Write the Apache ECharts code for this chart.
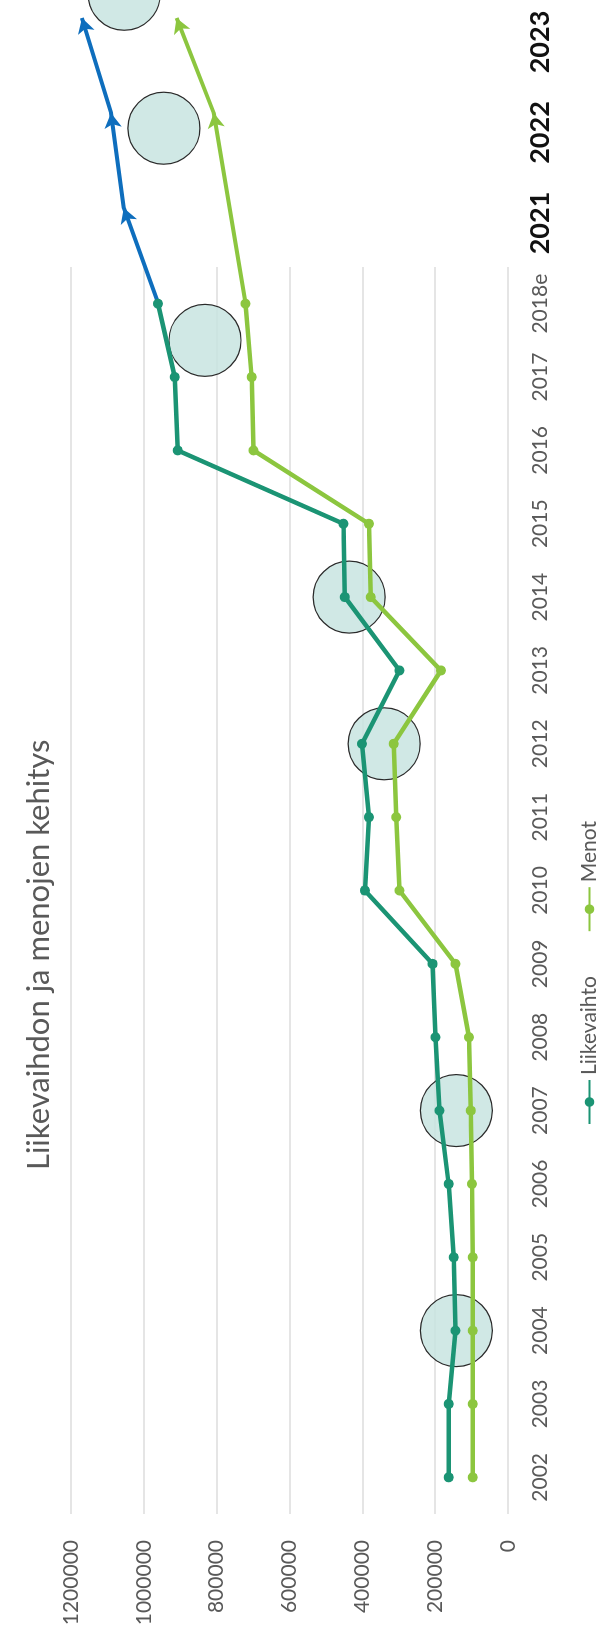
<!DOCTYPE html>
<html><head><meta charset="utf-8">
<script src="https://cdn.jsdelivr.net/npm/echarts@6/dist/echarts.min.js"></script>
<style>
html,body{margin:0;padding:0;background:#fff;overflow:hidden;width:600px;height:1638px;}
#chart{position:absolute;left:0;top:1638px;width:1638px;height:600px;transform-origin:0 0;transform:rotate(-90deg);}
</style></head><body><div id="chart"></div>
<script>
// ---- data ----
const titleText = 'Liikevaihdon ja menojen kehitys';
const categories = ['2002','2003','2004','2005','2006','2007','2008','2009','2010','2011','2012','2013','2014','2015','2016','2017','2018e'];
const liikevaihto = [163000,163000,144000,149000,163000,188000,199000,207000,393000,382000,401000,298000,448000,452000,907000,915000,961000];
const menot = [97000,97000,97000,97000,99000,102000,107000,144000,298000,307000,314000,184000,377000,382000,699000,704000,721000];
const forecastYears = ['2018e','2021','2022','2023'];
const forecastLabels = ['2021','2022','2023'];
const forecastLiikevaihto = [961000,1055000,1090000,1170000];
const forecastMenot = [721000,null,808000,910000];
// circles: position in category index units, value
const circlePos = [2,5,10,12,15.5];
const circleVal = [142000,142000,340000,436000,832000];
const forecastCirclePos = [1.84,3.25];
const forecastCircleVal = [945000,1054000];
const valueMax = 1200000, valueStep = 200000;

// ---- styles ----
const TEAL = '#1B9474', LIME = '#8CC63F', BLUE = '#0E6EBD';
const FONT = 'Lato';
const chart = echarts.init(document.getElementById('chart'), null, {renderer:'canvas'});

function arrowSeriesData(vals, rotations){
  return vals.map((v,i)=>{
    if (v === null) return null;
    if (i === 0) return {value:v, symbol:'none'};
    return {value:v, symbol:'arrow', symbolSize:[13,15], symbolRotate: rotations ? rotations[i] : 0};
  });
}

function build(rotL, rotM){
  return {
    animation:false,
    backgroundColor:'#fff',
    title:{text:titleText, left:463, top:18,
      textStyle:{fontFamily:FONT, fontSize:31, fontWeight:'normal', color:'#595959'}},
    legend:{data:['Liikevaihto','Menot'], left:508, top:574, itemWidth:44, itemHeight:12, itemGap:44,
      textStyle:{fontFamily:FONT, fontSize:21, color:'#595959'}},
    grid:[
      {left:124, right:267, top:71, bottom:92, containLabel:false},
      {left:1335, right:18, top:71, bottom:92, containLabel:false},
      {left:1415, right:42, top:71, bottom:92, containLabel:false}
    ],
    xAxis:[
      {type:'category', gridIndex:0, data:categories, boundaryGap:true,
        axisLine:{show:false}, axisTick:{show:false},
        axisLabel:{fontFamily:FONT, fontSize:21, color:'#595959', margin:22, interval:0}},
      {type:'value', gridIndex:0, min:-0.5, max:categories.length-0.5, show:false},
      {type:'category', gridIndex:1, data:forecastYears, boundaryGap:false,
        axisLine:{show:false}, axisTick:{show:false}, axisLabel:{show:false}},
      {type:'value', gridIndex:1, min:0, max:forecastYears.length-1, show:false},
      {type:'category', gridIndex:2, data:forecastLabels, boundaryGap:false,
        axisLine:{show:false}, axisTick:{show:false},
        axisLabel:{fontFamily:FONT, fontSize:27, fontWeight:'bold', color:'#111', margin:19, interval:0}}
    ],
    yAxis:[
      {type:'value', gridIndex:0, min:0, max:valueMax, interval:valueStep,
        axisLine:{show:false}, axisTick:{show:false},
        splitLine:{lineStyle:{color:'#DCDCDC', width:1.5}},
        axisLabel:{fontFamily:FONT, fontSize:21, color:'#595959', margin:26, formatter:(v)=>String(v)}},
      {type:'value', gridIndex:1, min:0, max:valueMax, show:false},
      {type:'value', gridIndex:2, min:0, max:valueMax, show:false}
    ],
    series:[
      {type:'scatter', name:'ympyrät', xAxisIndex:1, yAxisIndex:0, z:1, clip:false,
        symbolSize:72, silent:true,
        itemStyle:{color:'rgba(200,228,224,0.85)', borderColor:'#2a2a2a', borderWidth:1.2, opacity:1},
        data:circlePos.map((p,i)=>[p,circleVal[i]])},
      {type:'scatter', name:'ympyrät2', xAxisIndex:3, yAxisIndex:1, z:1, clip:false,
        symbolSize:72, silent:true,
        itemStyle:{color:'rgba(200,228,224,0.85)', borderColor:'#2a2a2a', borderWidth:1.2, opacity:1},
        data:forecastCirclePos.map((p,i)=>[p,forecastCircleVal[i]])},
      {type:'line', name:'Menot', xAxisIndex:0, yAxisIndex:0, z:3, data:menot,
        symbol:'circle', symbolSize:10, lineStyle:{color:LIME, width:4.5}, itemStyle:{color:LIME}},
      {type:'line', name:'Liikevaihto', xAxisIndex:0, yAxisIndex:0, z:4, data:liikevaihto,
        symbol:'circle', symbolSize:10, lineStyle:{color:TEAL, width:4.5}, itemStyle:{color:TEAL}},
      {type:'line', name:'Menot ennuste', xAxisIndex:2, yAxisIndex:1, z:3, clip:false, connectNulls:true,
        data:arrowSeriesData(forecastMenot,rotM),
        lineStyle:{color:LIME, width:4}, itemStyle:{color:LIME}},
      {type:'line', name:'Liikevaihto ennuste', xAxisIndex:2, yAxisIndex:1, z:4, clip:false,
        data:arrowSeriesData(forecastLiikevaihto,rotL),
        lineStyle:{color:BLUE, width:4}, itemStyle:{color:BLUE}}
    ]
  };
}

chart.setOption(build(null,null));
function rotations(vals){
  const pts = vals.map((v,i)=> v===null ? null : chart.convertToPixel({xAxisIndex:2, yAxisIndex:1},[i,v]));
  const rot = [];
  let prev = null;
  pts.forEach((p,i)=>{
    if (p === null){ rot.push(0); return; }
    if (prev === null){ rot.push(0); prev = p; return; }
    const ang = Math.atan2(-(p[1]-prev[1]), p[0]-prev[0]) * 180 / Math.PI;
    rot.push(ang - 90);
    prev = p;
  });
  return rot;
}
chart.setOption(build(rotations(forecastLiikevaihto), rotations(forecastMenot)), true);
</script></body></html>
